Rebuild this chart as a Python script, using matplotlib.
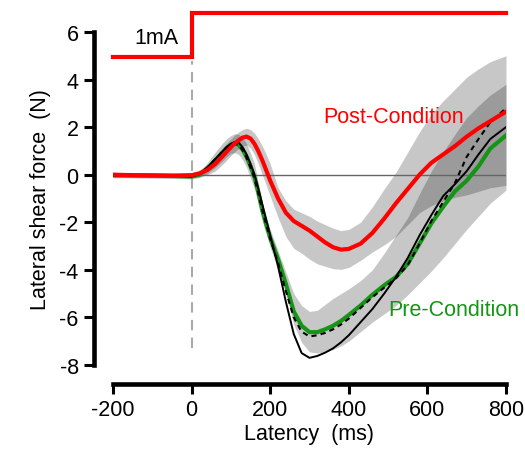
import matplotlib
matplotlib.use("Agg")
import matplotlib.pyplot as plt

plt.rcParams['font.family'] = ['Liberation Sans', 'DejaVu Sans']
plt.rcParams['axes.unicode_minus'] = False

# latency grid (ms)
latency = [-200, -150, -100, -50, 0, 20, 40, 60, 80, 90, 100, 110, 120, 130, 140,
           150, 160, 170, 180, 190, 200, 220, 240, 260, 280, 300, 320, 340, 360,
           380, 400, 430, 460, 490, 520, 550, 580, 610, 640, 670, 700, 730, 760, 800]

# pre-condition mean (green) and band
pre_mean = [-0.03, -0.03, -0.04, -0.05, -0.08, 0.0, 0.25, 0.6, 0.95, 1.12, 1.25, 1.32,
            1.25, 1.05, 0.75, 0.35, -0.1, -0.75, -1.5, -2.1, -2.65, -3.55, -4.6,
            -5.75, -6.35, -6.62, -6.62, -6.5, -6.35, -6.15, -5.9, -5.5, -5.05, -4.65,
            -4.3, -3.75, -2.9, -2.05, -1.35, -0.7, -0.25, 0.35, 1.1, 1.65]
pre_hi = [0.08, 0.08, 0.07, 0.06, 0.04, 0.15, 0.5, 0.95, 1.35, 1.52, 1.65, 1.72, 1.7,
          1.55, 1.3, 0.9, 0.45, -0.35, -1.15, -1.75, -2.3, -3.2, -4.1, -5.0, -5.5,
          -5.75, -5.7, -5.45, -5.2, -5.0, -4.8, -4.45, -4.0, -3.3, -2.55, -1.8,
          -0.8, 0.15, 0.95, 1.7, 2.4, 2.9, 3.35, 3.8]
pre_lo = [-0.13, -0.13, -0.14, -0.15, -0.18, -0.12, 0.05, 0.3, 0.6, 0.77, 0.9, 0.92,
          0.85, 0.62, 0.3, -0.15, -0.6, -1.25, -1.95, -2.5, -3.05, -4.0, -5.0, -6.3,
          -7.05, -7.45, -7.5, -7.45, -7.35, -7.2, -7.0, -6.6, -6.2, -5.85, -5.5,
          -5.05, -4.55, -4.05, -3.5, -2.9, -2.3, -1.75, -1.2, -0.65]

# post-condition mean (red) and band
post_mean = [0.0, -0.02, -0.03, -0.04, -0.02, 0.05, 0.2, 0.45, 0.8, 0.98, 1.15, 1.32,
             1.45, 1.56, 1.6, 1.52, 1.3, 0.98, 0.6, 0.18, -0.25, -1.0, -1.6, -1.95,
             -2.15, -2.35, -2.6, -2.85, -3.05, -3.15, -3.12, -2.9, -2.45, -1.85, -1.2,
             -0.6, 0.0, 0.5, 0.85, 1.2, 1.6, 1.95, 2.25, 2.65]
post_hi = [0.1, 0.08, 0.08, 0.06, 0.08, 0.2, 0.4, 0.75, 1.15, 1.33, 1.5, 1.67, 1.8,
           1.9, 1.95, 1.9, 1.75, 1.5, 1.2, 0.85, 0.45, -0.55, -1.1, -1.45, -1.6,
           -1.75, -1.95, -2.1, -2.25, -2.35, -2.3, -2.0, -1.35, -0.6, 0.1, 0.95,
           1.8, 2.55, 3.1, 3.6, 4.1, 4.45, 4.75, 5.0]
post_lo = [-0.1, -0.12, -0.13, -0.14, -0.12, -0.1, 0.0, 0.15, 0.45, 0.62, 0.8, 0.97,
           1.1, 1.2, 1.25, 1.12, 0.85, 0.45, 0.0, -0.45, -0.9, -1.8, -2.6, -3.1,
           -3.3, -3.55, -3.75, -3.85, -3.95, -3.98, -3.9, -3.6, -3.25, -2.95, -2.6,
           -2.1, -1.6, -1.3, -1.1, -0.95, -0.85, -0.7, -0.55, -0.45]

# model traces (black solid and dashed)
model_solid = [-0.03, -0.03, -0.04, -0.05, -0.08, 0.02, 0.3, 0.65, 1.0, 1.18, 1.3, 1.38,
               1.35, 1.15, 0.85, 0.45, 0.0, -0.6, -1.25, -1.9, -2.55, -3.85, -5.35,
               -6.7, -7.5, -7.7, -7.62, -7.48, -7.3, -7.05, -6.75, -6.2, -5.65, -5.0,
               -4.3, -3.5, -2.55, -1.7, -0.9, -0.4, 0.15, 0.85, 1.5, 2.0]
model_dashed = [-0.02, -0.02, -0.03, -0.04, -0.06, 0.05, 0.3, 0.65, 1.0, 1.15, 1.25, 1.3,
                1.25, 1.02, 0.7, 0.3, -0.15, -0.8, -1.5, -2.1, -2.7, -3.7, -4.9, -6.0,
                -6.6, -6.8, -6.75, -6.65, -6.5, -6.3, -6.05, -5.6, -5.15, -4.75, -4.35,
                -3.8, -2.9, -1.95, -1.15, -0.35, 0.75, 1.5, 2.2, 2.8]

# stimulus trace
stim_t = [-200, 0, 0, 800]
stim_level = [4.95, 4.95, 6.8, 6.8]
onset = 0

red = '#ff0000'
green = '#169416'

fig = plt.figure(figsize=(5.25, 4.56), dpi=100)
ax = fig.add_axes([0.2152, 0.1974, 0.7486, 0.7303])

ax.fill_between(latency, post_lo, post_hi, color='k', alpha=0.22, lw=0)
ax.fill_between(latency, pre_lo, pre_hi, color='k', alpha=0.22, lw=0)
ax.hlines(0, onset, latency[-1], color='#666666', lw=1.0)
ax.vlines(onset, -7.3, 4.8, color='#aaaaaa', lw=1.5, linestyles=(0, (5, 3.5)))

ax.plot(latency, pre_mean, color=green, lw=3.0)
ax.plot(latency, model_dashed, color='k', lw=1.5, linestyle=(0, (2.5, 2)))
ax.plot(latency, model_solid, color='k', lw=1.4)
ax.plot(latency, post_mean, color=red, lw=3.0)
ax.plot(stim_t, stim_level, color=red, lw=3.0, clip_on=False,
        solid_joinstyle='miter')

ax.text(-90, 5.75, '1mA', fontsize=15.5, ha='center', va='center')
ax.text(514, 2.45, 'Post-Condition', color=red, fontsize=15.5, ha='center', va='center')
ax.text(667, -5.65, 'Pre-Condition', color=green, fontsize=15.5, ha='center', va='center')

ax.set_xlim(-200, 800)
ax.set_ylim(-8, 6)
ax.set_xticks([-200, 0, 200, 400, 600, 800])
ax.set_yticks([-8, -6, -4, -2, 0, 2, 4, 6])
ax.spines['top'].set_visible(False)
ax.spines['right'].set_visible(False)
for s in ['left', 'bottom']:
    ax.spines[s].set_position(('outward', 13.7))
    ax.spines[s].set_linewidth(3.3)
ax.tick_params(direction='out', length=7, width=2.2, labelsize=15.5, pad=4)
ax.set_xlabel('Latency  (ms)', fontsize=15.5, labelpad=2)
ax.set_ylabel('Lateral shear force  (N)', fontsize=15.5, labelpad=6)

fig.savefig('out.png', dpi=100)
